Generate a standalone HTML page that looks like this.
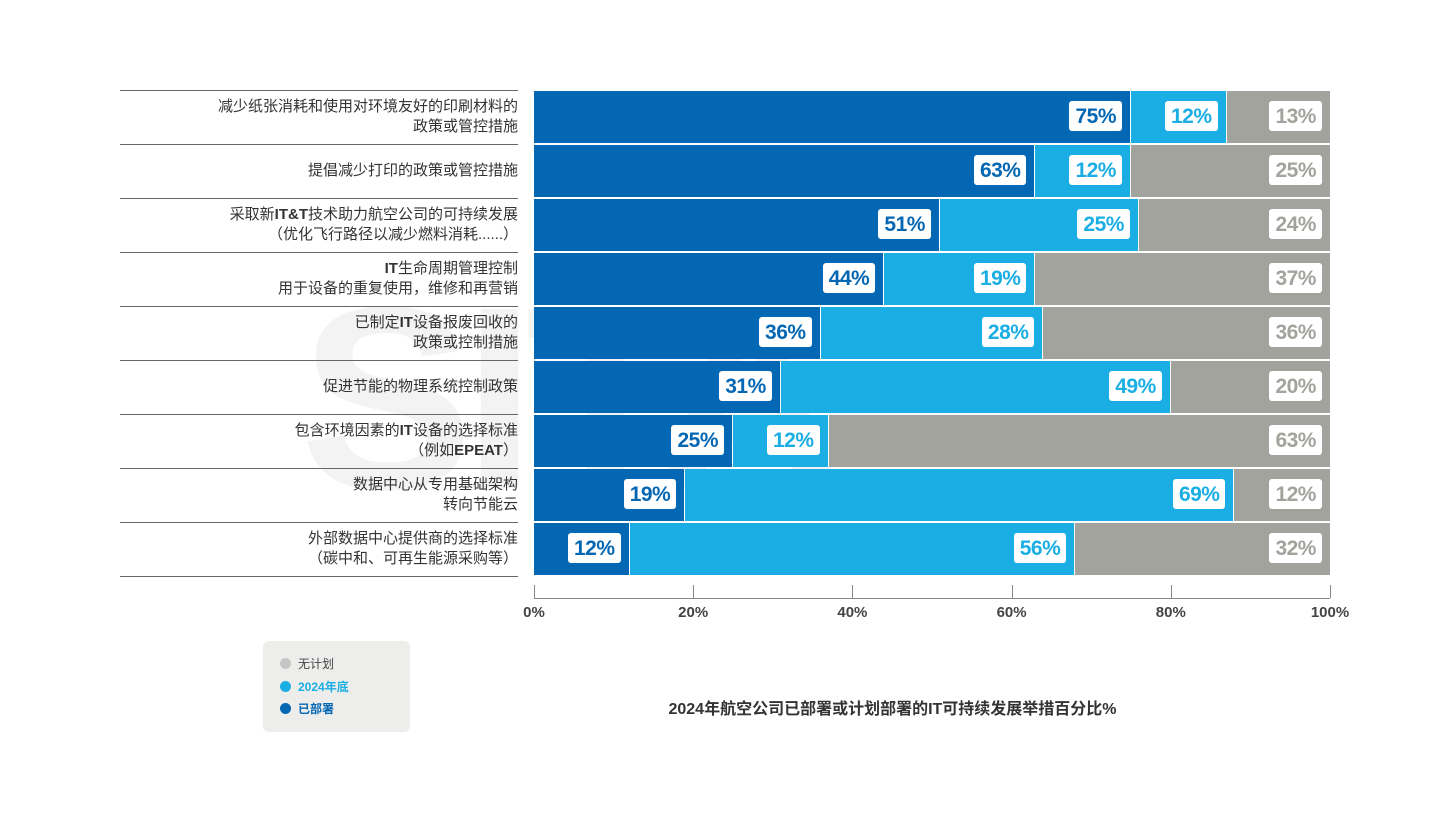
<!DOCTYPE html>
<html><head><meta charset="utf-8"><style>
body{margin:0;width:1451px;height:817px;background:#fff;position:relative;overflow:hidden;font-family:"Liberation Sans","Noto Sans CJK SC",sans-serif}
.a{position:absolute}
.lab{position:absolute;left:120px;width:398px;text-align:right;font-size:15px;color:#333;line-height:20px;display:flex;flex-direction:column;justify-content:center;align-items:flex-end}
.lab b{font-weight:bold}
.sep{position:absolute;left:120px;width:398px;height:1px;background:#666}
.seg{position:absolute;height:52px}
.d{background:#0467b3}.l{background:#1aaee4}.g{background:#a3a39e}
.v{position:absolute;top:10px;height:30px;line-height:31px;background:#fff;border-radius:3px;font-weight:bold;font-size:21px;padding:0 6px;letter-spacing:-0.5px}
.tk{position:absolute;top:585px;width:1px;height:13px;background:#888}
.tl{position:absolute;top:604px;font-size:15px;font-weight:bold;color:#444;width:60px;text-align:center}
</style></head><body>
<div class="a" style="left:300px;top:250px;font-size:260px;font-weight:bold;color:#f3f3f3;letter-spacing:-10px">SITA</div>
<div id="c"></div>
<div class="a" style="left:534px;top:598px;width:796px;height:1px;background:#888"></div>
<div class="a" style="left:263px;top:641px;width:147px;height:91px;background:#ededec;border-radius:6px"></div>
<div class="a" style="left:280px;top:658px;width:11px;height:11px;border-radius:50%;background:#c6c6c6"></div>
<div class="a" style="left:298px;top:655px;font-size:12px;color:#444">无计划</div>
<div class="a" style="left:280px;top:681px;width:11px;height:11px;border-radius:50%;background:#1aaee4"></div>
<div class="a" style="left:298px;top:678px;font-size:12px;color:#1aaee4;font-weight:bold">2024年底</div>
<div class="a" style="left:280px;top:703px;width:11px;height:11px;border-radius:50%;background:#0467b3"></div>
<div class="a" style="left:298px;top:700px;font-size:12px;color:#0467b3;font-weight:bold">已部署</div>
<div class="a" style="left:600px;top:695px;width:585px;text-align:center;font-size:16px;font-weight:bold;color:#333">2024年航空公司已部署或计划部署的IT可持续发展举措百分比%</div>
<script>
const rows=[["减少纸张消耗和使用对环境友好的印刷材料的<br>政策或管控措施",75,12,13],["提倡减少打印的政策或管控措施",63,12,25],["采取新<b>IT&amp;T</b>技术助力航空公司的可持续发展<br>（优化飞行路径以减少燃料消耗......）",51,25,24],["<span><b>IT</b>生命周期管理控制</span>用于设备的重复使用，维修和再营销",44,19,37],["<span>已制定<b>IT</b>设备报废回收的</span>政策或控制措施",36,28,36],["促进节能的物理系统控制政策",31,49,20],["<span>包含环境因素的<b>IT</b>设备的选择标准</span><span>（例如<b>EPEAT</b>）</span>",25,12,63],["数据中心从专用基础架构<br>转向节能云",19,69,12],["外部数据中心提供商的选择标准<br>（碳中和、可再生能源采购等）",12,56,32]];
const X0=534,W=796;let h='';
rows.forEach((r,i)=>{const t=91+i*54;
h+=`<div class="sep" style="top:${t-1}px"></div><div class="lab" style="top:${t}px;height:52px"><div>${r[0]}</div></div>`;
let acc=0;[[r[1],'d','#0467b3'],[r[2],'l','#1aaee4'],[r[3],'g','#a3a39e']].forEach(s=>{const x1=X0+W*acc/100;acc+=s[0];const x2=X0+W*acc/100;
h+=`<div class="seg ${s[1]}" style="left:${x1}px;top:${t}px;width:${x2-x1-(s[1]=='g'?0:1)}px"><div class="v" style="right:8px;color:${s[2]}">${s[0]}%</div></div>`;});
});
h+=`<div class="sep" style="top:${91+9*54-1}px"></div>`;
for(let k=0;k<=5;k++){const x=X0+W*k/5;h+=`<div class="tk" style="left:${x}px"></div><div class="tl" style="left:${x-30}px">${k*20}%</div>`;}
document.getElementById('c').innerHTML=h;
document.querySelectorAll('.lab span').forEach(s=>s.style.display='block');
</script>
</body></html>
